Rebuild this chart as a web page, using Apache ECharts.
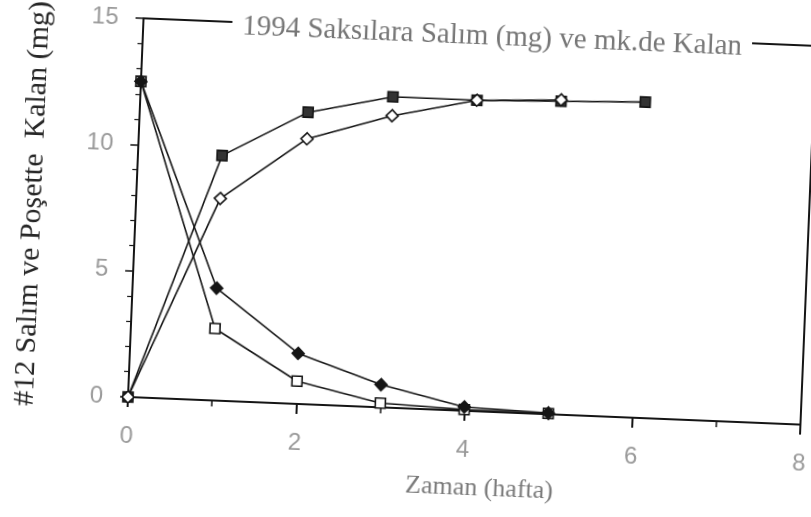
<!DOCTYPE html>
<html>
<head>
<meta charset="utf-8">
<script src="https://cdn.jsdelivr.net/npm/echarts@6/dist/echarts.min.js"></script>
<style>
  html, body { margin: 0; padding: 0; background: #fff; overflow: hidden; width: 811px; height: 517px; }
  /* the printed figure sits slightly turned on the page */
  #chart { width: 811px; height: 517px; transform: rotate(2.35deg); transform-origin: 128px 397px; }
</style>
</head>
<body>
<div id="chart"></div>
<script>
// weeks after placement
const weeks = [0, 1, 2, 3, 4, 5, 6];
// cumulative release into the pots (mg)
const releasedA = [0, 9.7, 11.55, 12.3, 12.3, 12.4, 12.5];
const releasedB = [0, 8.0, 10.5, 11.55, 12.3, 12.45];
// amount still left in the bag (mg)
const remainingC = [12.5, 4.45, 2.0, 0.9, 0.15, 0.05];
const remainingD = [12.5, 2.85, 0.9, 0.17, 0.05, 0.03];

const xTicks = [0, 2, 4, 6, 8];
const yTicks = [0, 5, 10, 15];

const titleText = '1994 Saksılara Salım (mg) ve mk.de Kalan';
const xName = 'Zaman (hafta)';
const yName = '#12 Salım ve Poşette  Kalan (mg)';

const ink = '#151515';
const pairs = vals => vals.map((v, i) => [weeks[i], v]);

function lineSeries(name, vals, symbol, size, fill, z) {
  return {
    name, type: 'line', data: pairs(vals), z,
    symbol, symbolSize: size, showSymbol: true,
    lineStyle: { color: ink, width: 1.6 },
    itemStyle: { color: fill, borderColor: ink, borderWidth: 1.6 },
    emphasis: { disabled: true }, animation: false
  };
}

const labelStyle = { color: '#9a9a9a', fontFamily: 'Liberation Sans', fontSize: 24 };

const chart = echarts.init(document.getElementById('chart'), null, { renderer: 'canvas' });
chart.setOption({
  backgroundColor: '#fff',
  animation: false,
  title: {
    text: titleText, left: 467, top: 6, textAlign: 'center',
    backgroundColor: '#fff', padding: [2, 10],
    textStyle: { fontFamily: 'Liberation Serif', fontWeight: 'normal', fontSize: 29, color: '#767676' }
  },
  grid: {
    left: 128, top: 18, right: 10, bottom: 120,
    show: true, borderColor: ink, borderWidth: 2, backgroundColor: 'transparent'
  },
  xAxis: {
    type: 'value', min: 0, max: 8, interval: 2,
    name: xName, nameLocation: 'middle', nameGap: 64, nameMoveOverlap: false,
    nameTextStyle: { fontFamily: 'Liberation Serif', fontSize: 26, color: '#7a7a7a', padding: [0, 0, 0, 36] },
    axisLine: { show: true, lineStyle: { color: ink, width: 2 } },
    axisTick: { show: true, inside: false, length: 10, lineStyle: { color: ink, width: 2 } },
    minorTick: { show: true, splitNumber: 2, length: 6, lineStyle: { color: ink, width: 1.5 } },
    axisLabel: Object.assign({ margin: 27, formatter: v => xTicks.includes(v) ? String(v) : '' }, labelStyle),
    splitLine: { show: false }, minorSplitLine: { show: false }
  },
  yAxis: {
    type: 'value', min: 0, max: 15, interval: 5,
    name: yName, nameLocation: 'middle', nameGap: 88, nameRotate: 90, nameMoveOverlap: false,
    nameTextStyle: { fontFamily: 'Liberation Serif', fontSize: 30, color: '#262626' },
    axisLine: { show: true, lineStyle: { color: ink, width: 2 } },
    axisTick: { show: true, inside: false, length: 8, lineStyle: { color: ink, width: 1.5 } },
    minorTick: { show: true, splitNumber: 5, length: 5, lineStyle: { color: ink, width: 1.2 } },
    axisLabel: Object.assign({ margin: 25, formatter: v => yTicks.includes(v) ? String(v) : '' }, labelStyle),
    splitLine: { show: false }, minorSplitLine: { show: false }
  },
  series: [
    lineSeries('Poşette kalan B', remainingD, 'rect', 10, '#fff', 2),
    lineSeries('Poşette kalan A', remainingC, 'diamond', 12, ink, 3),
    lineSeries('Salım A', releasedA, 'rect', 10, '#333', 4),
    lineSeries('Salım B', releasedB, 'diamond', 12, '#fff', 5)
  ]
});
</script>
</body>
</html>
